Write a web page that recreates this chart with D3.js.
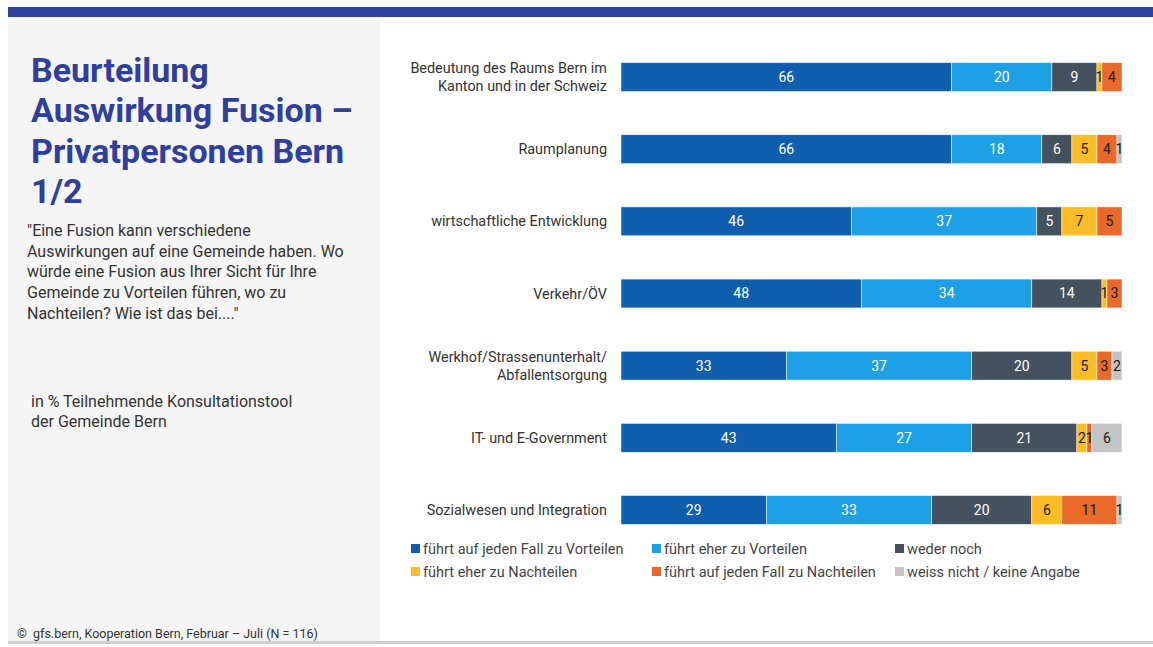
<!DOCTYPE html>
<html>
<head>
<meta charset="utf-8">
<script src="https://cdn.jsdelivr.net/npm/d3@7/dist/d3.min.js"></script>
<style>
  html, body { margin: 0; padding: 0; background: #fff; }
  svg { display: block; font-family: Roboto, "Open Sans", sans-serif; }
</style>
</head>
<body>
<svg id="chart" width="1153" height="647"></svg>
<script>
// Categories (each label split into its display lines)
const categories = [
  ["Bedeutung des Raums Bern im", "Kanton und in der Schweiz"],
  ["Raumplanung"],
  ["wirtschaftliche Entwicklung"],
  ["Verkehr/ÖV"],
  ["Werkhof/Strassenunterhalt/", "Abfallentsorgung"],
  ["IT- und E-Government"],
  ["Sozialwesen und Integration"]
];

// Response options
const seriesNames = [
  "führt auf jeden Fall zu Vorteilen",
  "führt eher zu Vorteilen",
  "weder noch",
  "führt eher zu Nachteilen",
  "führt auf jeden Fall zu Nachteilen",
  "weiss nicht / keine Angabe"
];

// Values in % per series, one entry per category
const vorteileSicher  = [66, 66, 46, 48, 33, 43, 29];
const vorteileEher    = [20, 18, 37, 34, 37, 27, 33];
const wederNoch       = [9, 6, 5, 14, 20, 21, 20];
const nachteileEher   = [1, 5, 7, 1, 5, 2, 6];
const nachteileSicher = [4, 4, 5, 3, 3, 1, 11];
const weissNicht      = [0, 1, 0, 0, 2, 6, 1];

const seriesValues = [vorteileSicher, vorteileEher, wederNoch, nachteileEher, nachteileSicher, weissNicht];

const colors = ["#0f5fae", "#1ea0e6", "#44525f", "#fbbd23", "#e8692a", "#c4c4c4"];
const labelColors = ["#ffffff", "#ffffff", "#ffffff", "#1a1a1a", "#1a1a1a", "#1a1a1a"];

const svg = d3.select("#chart");

// Page frame: top band, left grey panel, bottom rule
svg.append("rect").attr("x", 8).attr("y", 7).attr("width", 1145).attr("height", 10).attr("fill", "#2e3f9e");
svg.append("rect").attr("x", 8).attr("y", 17).attr("width", 372).attr("height", 624).attr("fill", "#f5f5f5");
svg.append("rect").attr("x", 8).attr("y", 641).attr("width", 1145).attr("height", 3).attr("fill", "#cfcfcf");

// Title
const titleLines = ["Beurteilung", "Auswirkung Fusion –", "Privatpersonen Bern", "1/2"];
svg.append("g").selectAll("text").data(titleLines).join("text")
  .attr("x", 31).attr("y", (d, i) => 82 + i * 40.3)
  .attr("fill", "#2e3f9e").attr("font-size", 34).attr("font-weight", 700)
  .text(d => d);

// Question text
const questionLines = [
  "\"Eine Fusion kann verschiedene",
  "Auswirkungen auf eine Gemeinde haben. Wo",
  "würde eine Fusion aus Ihrer Sicht für Ihre",
  "Gemeinde zu Vorteilen führen, wo zu",
  "Nachteilen? Wie ist das bei....\""
];
svg.append("g").selectAll("text").data(questionLines).join("text")
  .attr("x", 27).attr("y", (d, i) => 236 + i * 20.7)
  .attr("fill", "#333").attr("font-size", 16)
  .text(d => d);

const baseLines = ["in % Teilnehmende Konsultationstool", "der Gemeinde Bern"];
svg.append("g").selectAll("text").data(baseLines).join("text")
  .attr("x", 31).attr("y", (d, i) => 407 + i * 20)
  .attr("fill", "#333").attr("font-size", 16)
  .text(d => d);

svg.append("text").attr("x", 17).attr("y", 638)
  .attr("fill", "#333").attr("font-size", 12.5)
  .attr("xml:space", "preserve")
  .text("©  gfs.bern, Kooperation Bern, Februar – Juli (N = 116)");

// Scales
const x = d3.scaleLinear().domain([0, 100]).range([621, 1122]);
const y = d3.scaleBand().domain(d3.range(categories.length)).range([41, 546]).paddingInner(0.6).paddingOuter(0.3);

// Stack data
const rows = categories.map((c, i) => {
  const o = { idx: i };
  seriesNames.forEach((s, k) => { o[s] = seriesValues[k][i]; });
  return o;
});
const stacked = d3.stack().keys(seriesNames)(rows);

const bars = svg.append("g");
stacked.forEach((layer, k) => {
  const g = bars.append("g");
  g.selectAll("rect").data(layer.filter(d => d[1] - d[0] > 0)).join("rect")
    .attr("x", d => x(d[0]))
    .attr("y", d => y(d.data.idx))
    .attr("width", d => x(d[1]) - x(d[0]))
    .attr("height", y.bandwidth())
    .attr("fill", colors[k])
    .attr("stroke", "#ffffff").attr("stroke-width", 0.5);
  g.selectAll("text").data(layer.filter(d => d[1] - d[0] > 0)).join("text")
    .attr("x", d => (x(d[0]) + x(d[1])) / 2)
    .attr("y", d => y(d.data.idx) + y.bandwidth() / 2)
    .attr("dy", "0.35em")
    .attr("text-anchor", "middle")
    .attr("fill", labelColors[k])
    .attr("font-size", 14)
    .text(d => d[1] - d[0]);
});

// Category labels
const catG = svg.append("g");
categories.forEach((lines, i) => {
  const cy = y(i) + y.bandwidth() / 2;
  lines.forEach((line, j) => {
    catG.append("text")
      .attr("x", 607)
      .attr("y", cy + (j - (lines.length - 1) / 2) * 18)
      .attr("dy", "0.35em")
      .attr("text-anchor", "end")
      .attr("fill", "#333").attr("font-size", 14.4)
      .text(line);
  });
});

// Legend
const legendPos = [[411, 549], [652, 549], [895, 549], [411, 572], [652, 572], [895, 572]];
const legend = svg.append("g");
seriesNames.forEach((s, k) => {
  const [lx, ly] = legendPos[k];
  legend.append("rect").attr("x", lx).attr("y", ly - 5).attr("width", 9).attr("height", 9).attr("fill", colors[k]);
  legend.append("text").attr("x", lx + 12).attr("y", ly).attr("dy", "0.35em")
    .attr("fill", "#444").attr("font-size", 14.5).text(s);
});
</script>
</body>
</html>
